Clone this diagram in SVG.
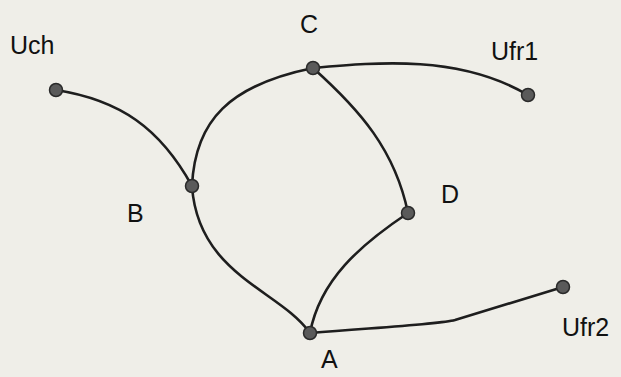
<svg xmlns="http://www.w3.org/2000/svg" width="621" height="377" viewBox="0 0 621 377">
<style>
.bg{fill:#efeee8}
.edge{fill:none;stroke:#1e1e1e;stroke-width:2.6;stroke-linecap:round;stroke-linejoin:round}
.node{fill:#5a5a5a;stroke:#2a2a2a;stroke-width:1.5}
.lbl{font-family:"Liberation Sans",Arial,sans-serif;font-size:25px;fill:#111}
</style>
<rect class="bg" x="0" y="0" width="621" height="377"/>
<g id="connectors">
<path class="edge" d="M56,90 C120,100 160,128 192,186"/>
<path class="edge" d="M192,186 C195,120 230,85 313,68"/>
<path class="edge" d="M313,68 C380,62 460,55 528,95"/>
<path class="edge" d="M313,68 C360,110 395,150 408,213"/>
<path class="edge" d="M408,213 C360,245 320,280 310,333"/>
<path class="edge" d="M192,186 C198,275 280,290 310,333"/>
<path class="edge" d="M310,333 C400,326 440,324 455,320 L563,287"/>
</g>
<g id="Uch"><circle class="node" cx="56" cy="90" r="6.5"/><text class="lbl" x="10" y="54">Uch</text></g>
<g id="C"><circle class="node" cx="313" cy="68" r="6.5"/><text class="lbl" x="300" y="33">C</text></g>
<g id="Ufr1"><circle class="node" cx="528" cy="95" r="6.5"/><text class="lbl" x="491" y="60">Ufr1</text></g>
<g id="B"><circle class="node" cx="192" cy="186" r="6.5"/><text class="lbl" x="127" y="222">B</text></g>
<g id="D"><circle class="node" cx="408" cy="213" r="6.5"/><text class="lbl" x="441" y="203">D</text></g>
<g id="A"><circle class="node" cx="310" cy="333" r="6.5"/><text class="lbl" x="321" y="368">A</text></g>
<g id="Ufr2"><circle class="node" cx="563" cy="287" r="6.5"/><text class="lbl" x="562" y="336">Ufr2</text></g>
</svg>
